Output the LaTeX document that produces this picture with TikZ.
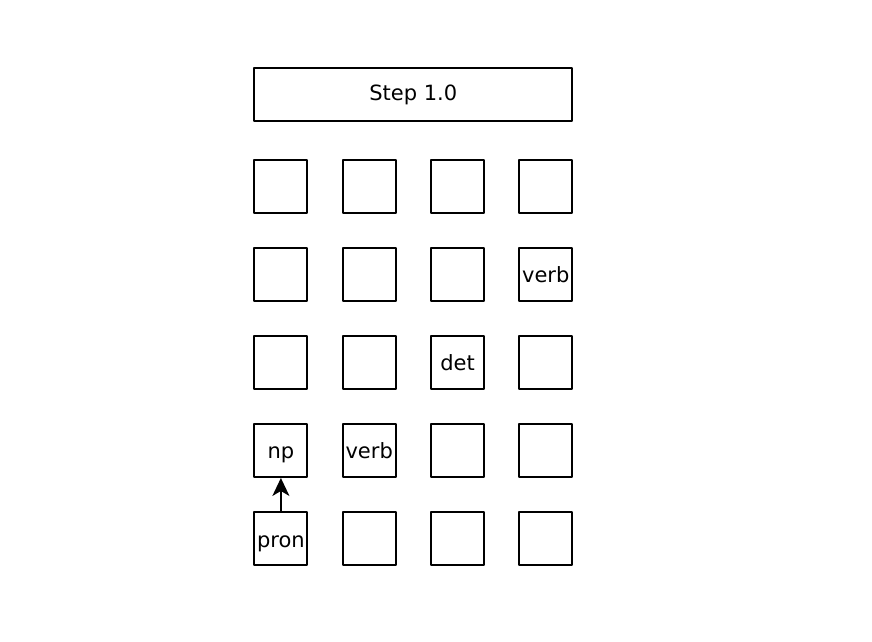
\documentclass[tikz,border=0pt]{standalone}
\usepackage{fontspec}
\setmainfont{DejaVu Sans}
\usetikzlibrary{arrows.meta}

\begin{document}
\begin{tikzpicture}[x=1pt,y=-1pt,line cap=round,line join=round,
    cell/.style={draw,line width=2pt,minimum width=53pt,minimum height=53pt,inner sep=0pt,
      text height=17pt,text depth=0pt,font=\fontsize{21pt}{25pt}\selectfont},
    stepbox/.style={cell,minimum width=318pt,text height=12pt}]
  \useasboundingbox (0,0) rectangle (872,641);

  \node[stepbox] (title) at (413.3,94.7) {Step 1.0};

  % grid of cells, rows top to bottom
  \foreach \r/\c/\t in {1/1/,1/2/,1/3/,1/4/,
                         2/1/,2/2/,2/3/,2/4/verb,
                         3/1/,3/2/,3/3/det,3/4/,
                         4/1/np,4/2/verb,4/3/,4/4/,
                         5/1/pron,5/2/,5/3/,5/4/}
    \node[cell] (c-\r-\c) at ({280.9+88.3*(\c-1)},{186.3+88.05*(\r-1)}) {\t};

  \draw[-{Stealth[length=18pt,width=17pt,inset=5pt]},line width=2pt] (c-5-1) -- (c-4-1);
\end{tikzpicture}
\end{document}
